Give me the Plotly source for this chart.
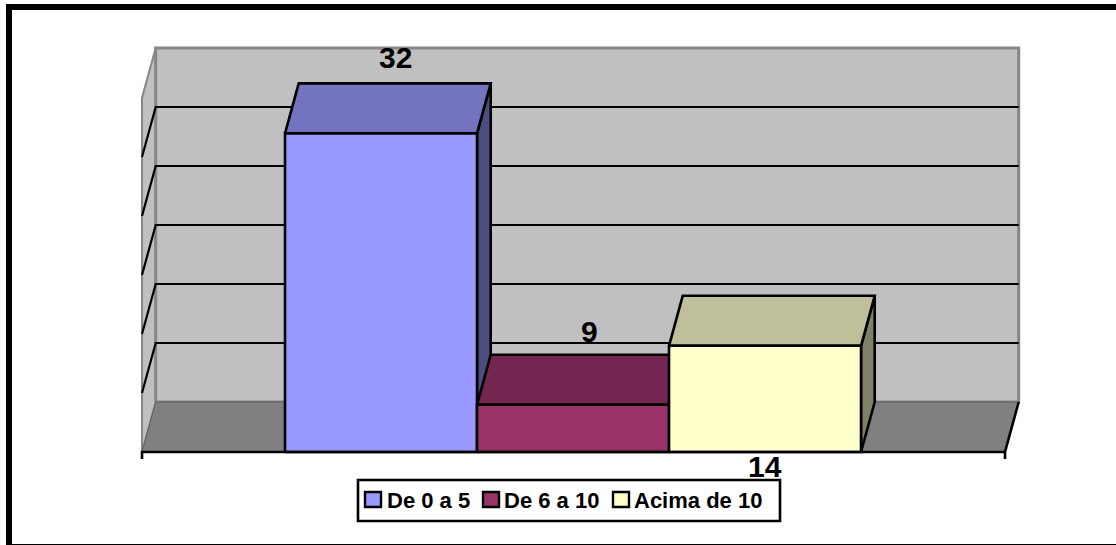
import plotly.graph_objects as go

# values
categories = ["De 0 a 5", "De 6 a 10", "Acima de 10"]
values = [32, 9, 14]
grid_values = [5, 10, 15, 20, 25, 30, 35]

front_colors = ["#9999FF", "#993366", "#FFFFCC"]
top_colors = ["#7373BF", "#732650", "#BFBF99"]
side_colors = ["#4D4D80", "#4D1A33", "#808066"]

WIDTH, HEIGHT = 1116, 545
# plot area in pixels, a bit larger than the box so scatter lines are not clipped
LEFT, RIGHT, TOP, BOTTOM = 134, 1026, 40, 464

# value axis starts at 5, like the original, the rest of the range is the 3D depth
DX, DY = 0.0713, 4.237
Y_MIN, Y_MAX = 5, 35
X_LEFT, X_RIGHT = -1.245, 3.25
PX_PER_X, PX_PER_Y = 192, 11.8
X_RANGE = [X_LEFT - 8 / PX_PER_X, X_RIGHT + DX + 7.3 / PX_PER_X]
Y_RANGE = [Y_MIN - 12 / PX_PER_Y, Y_MAX + DY + 8 / PX_PER_Y]


def px_x(p):
    return (p - LEFT) / (RIGHT - LEFT)


def px_y(p):
    return (BOTTOM - p) / (BOTTOM - TOP)


def face(fig, xs, ys, fill=None, color="black", width=2.6):
    fig.add_trace(
        go.Scatter(
            x=xs + xs[:1],
            y=ys + ys[:1],
            mode="lines",
            fill="toself" if fill else None,
            fillcolor=fill,
            line=dict(color=color, width=width),
            showlegend=False,
            hoverinfo="skip",
        )
    )


fig = go.Figure()

# left wall, back wall and floor
face(
    fig,
    [X_LEFT, X_LEFT + DX, X_LEFT + DX, X_LEFT],
    [Y_MIN, Y_MIN + DY, Y_MAX + DY, Y_MAX],
    fill="#C0C0C0",
    color="#868686",
    width=2,
)
face(
    fig,
    [X_LEFT + DX, X_RIGHT + DX, X_RIGHT + DX, X_LEFT + DX],
    [Y_MIN + DY, Y_MIN + DY, Y_MAX + DY, Y_MAX + DY],
    fill="#C0C0C0",
    color="#868686",
    width=3,
)

# gridlines run along the left wall and the back wall
for v in grid_values[1:-1]:
    fig.add_trace(
        go.Scatter(
            x=[X_LEFT, X_LEFT + DX, X_RIGHT + DX],
            y=[v, v + DY, v + DY],
            mode="lines",
            line=dict(color="black", width=2.2),
            showlegend=False,
            hoverinfo="skip",
        )
    )

face(
    fig,
    [X_LEFT, X_RIGHT, X_RIGHT + DX, X_LEFT + DX],
    [Y_MIN, Y_MIN, Y_MIN + DY, Y_MIN + DY],
    fill="#808080",
    color="#5F5F5F",
    width=1,
)

# bars, back to front so each one covers the side of the previous one
for i, v in enumerate(values):
    x0, x1 = i - 0.5, i + 0.5
    face(fig, [x1, x1 + DX, x1 + DX, x1], [Y_MIN, Y_MIN + DY, v + DY, v], side_colors[i])
    face(fig, [x0, x1, x1 + DX, x0 + DX], [v, v, v + DY, v + DY], top_colors[i])
    face(fig, [x0, x1, x1, x0], [Y_MIN, Y_MIN, v, v], front_colors[i])

# front edge of the floor with the two end ticks
fig.add_trace(
    go.Scatter(
        x=[X_LEFT, X_LEFT, X_RIGHT, X_RIGHT, X_RIGHT, X_RIGHT + DX],
        y=[Y_MIN - 0.6, Y_MIN, Y_MIN, Y_MIN - 0.6, Y_MIN, Y_MIN + DY],
        mode="lines",
        line=dict(color="black", width=2.6),
        showlegend=False,
        hoverinfo="skip",
    )
)

label_pos = [(395, 57), (589, 331), (765, 466)]
annotations = []
for v, (lx, ly) in zip(values, label_pos):
    annotations.append(
        dict(
            x=px_x(lx),
            y=px_y(ly),
            xref="paper",
            yref="paper",
            text=str(v),
            showarrow=False,
            xanchor="center",
            yanchor="middle",
            font=dict(family="Liberation Sans", size=30, color="black", weight="bold"),
        )
    )

shapes = [
    # outer frame
    dict(type="rect", xref="paper", yref="paper", x0=px_x(6), x1=px_x(12), y0=px_y(4), y1=px_y(545),
         fillcolor="black", line_width=0),
    dict(type="rect", xref="paper", yref="paper", x0=px_x(6), x1=px_x(1116), y0=px_y(4), y1=px_y(10),
         fillcolor="black", line_width=0),
    dict(type="rect", xref="paper", yref="paper", x0=px_x(6), x1=px_x(1116), y0=px_y(544), y1=px_y(545),
         fillcolor="black", line_width=0),
    # legend box
    dict(type="rect", xref="paper", yref="paper", x0=px_x(358), x1=px_x(780), y0=px_y(480), y1=px_y(521),
         fillcolor="white", line=dict(color="black", width=2.6)),
]

swatch_x = [365, 483, 613]
legend_text_x = [387, 504, 634]
for name, color, sx, tx in zip(categories, front_colors, swatch_x, legend_text_x):
    shapes.append(
        dict(type="rect", xref="paper", yref="paper", x0=px_x(sx), x1=px_x(sx + 16), y0=px_y(492), y1=px_y(507),
             fillcolor=color, line=dict(color="black", width=2.4))
    )
    annotations.append(
        dict(
            x=px_x(tx),
            y=px_y(500),
            xref="paper",
            yref="paper",
            text=name,
            showarrow=False,
            xanchor="left",
            yanchor="middle",
            xshift=-2,
            font=dict(family="Liberation Sans", size=22, color="black", weight="bold"),
        )
    )

fig.update_layout(
    width=WIDTH,
    height=HEIGHT,
    margin=dict(l=LEFT, r=WIDTH - RIGHT, t=TOP, b=HEIGHT - BOTTOM, pad=0),
    paper_bgcolor="white",
    plot_bgcolor="white",
    showlegend=False,
    xaxis=dict(visible=False, range=X_RANGE, fixedrange=True),
    yaxis=dict(visible=False, range=Y_RANGE, fixedrange=True),
    shapes=shapes,
    annotations=annotations,
)

# the page margin would push the frame 8px off
fig.write_html(
    "out.html",
    config={"displayModeBar": False},
    post_script="document.body.style.margin='0';",
)
